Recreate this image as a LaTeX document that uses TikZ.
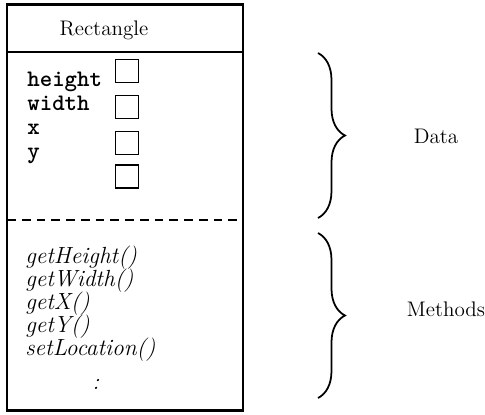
\documentclass[tikz,border=0pt]{standalone}
\usepackage{fontspec}
\usetikzlibrary{decorations.pathreplacing}

\begin{document}
\begin{tikzpicture}[x=0.02cm,y=-0.02cm,font=\fontsize{12}{14}\selectfont,
  slot/.style={draw,line width=0.8pt,minimum size=0.46cm,inner sep=0pt},
  field/.style={anchor=base west,inner sep=0pt,font=\fontsize{13.5}{14}\selectfont\ttfamily\bfseries},
  method/.style={anchor=base west,inner sep=0pt,font=\fontsize{13.3}{14}\selectfont\itshape},
  brc/.style={decorate,decoration={brace,amplitude=0.54cm},line width=1pt}]
  \useasboundingbox (0,0) rectangle (485,414);

  \coordinate (nw) at (7,4);
  \coordinate (se) at (243,410);
  \coordinate (hl) at (7,52);
  \coordinate (hr) at (243,52);
  \coordinate (dl) at (7,220);
  \coordinate (dr) at (243,220);
  \draw[line width=1.7pt] (nw) rectangle (se);
  \draw[line width=1.1pt] (hl) -- (hr);
  \draw[line width=1.1pt,dash pattern=on 5pt off 3.4pt] (dl) -- (dr);

  \node (title) at (104,30) {Rectangle};

  \node[field] (fh) at (27,86) {height};
  \node[field] (fw) at (27,110) {width};
  \node[field] (fx) at (27,134) {x};
  \node[field] (fy) at (27,158) {y};
  \node[slot] (s1) at (127,71) {};
  \node[slot] (s2) at (127,107) {};
  \node[slot] (s3) at (127,143) {};
  \node[slot] (s4) at (127,176.5) {};

  \node[method] (m1) at (25,263) {getHeight()};
  \node[method] (m2) at (25,286) {getWidth()};
  \node[method] (m3) at (25,309) {getX()};
  \node[method] (m4) at (25,332) {getY()};
  \node[method] (m5) at (25,355) {setLocation()};
  \node[method] (m6) at (92,389) {:};

  \coordinate (dtop) at (318,53);
  \coordinate (dbot) at (318,218);
  \coordinate (mtop) at (318,233);
  \coordinate (mbot) at (318,398);
  \draw[brc] (dtop) -- (dbot);
  \draw[brc] (mtop) -- (mbot);
  \node (data) at (436,136) {Data};
  \node (methods) at (446,309) {Methods};
\end{tikzpicture}
\end{document}
